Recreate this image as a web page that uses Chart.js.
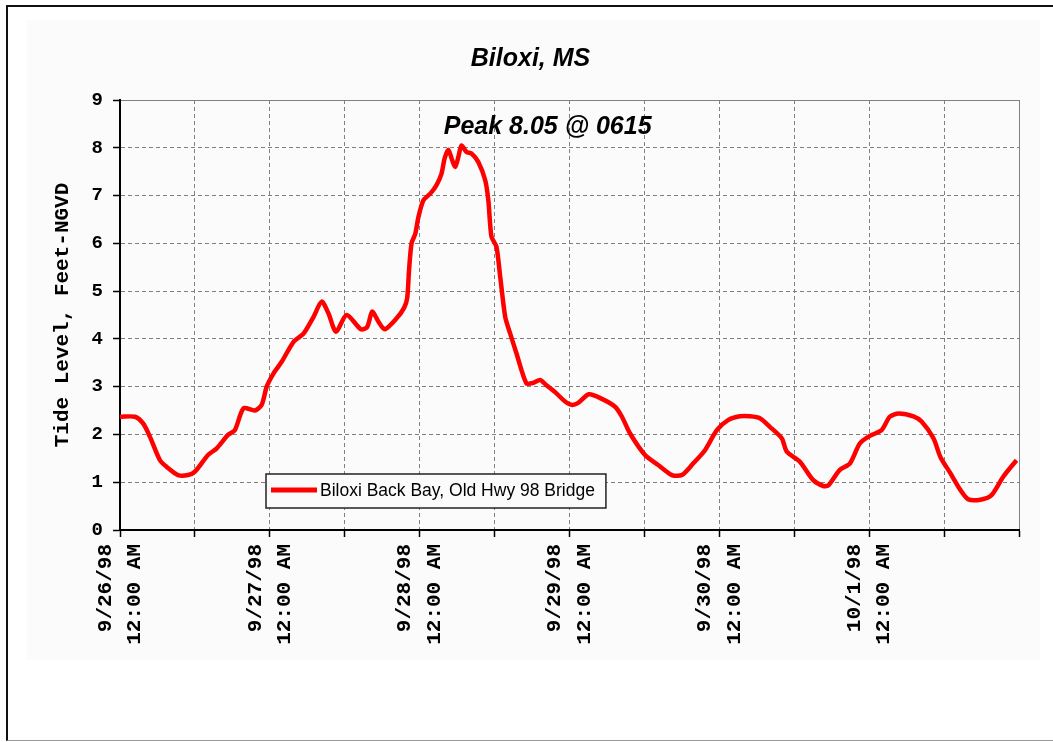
<!DOCTYPE html>
<html>
<head>
<meta charset="utf-8">
<script src="https://cdn.jsdelivr.net/npm/chart.js@4.4.0/dist/chart.umd.min.js"></script>
<style>
  body { margin: 0; background: #fff; width: 1053px; height: 742px; overflow: hidden; position: relative; }
  #frame { position: absolute; left: 6px; top: 5px; width: 1060px; height: 733px;
           border-left: 2px solid #111; border-top: 2px solid #111; border-bottom: 1px solid #999; }
  #wrap { position: absolute; left: 27px; top: 20px; width: 1013px; height: 640px; background: #fbfbfb; }
</style>
</head>
<body>
<div id="frame"></div>
<div id="wrap"><canvas id="tideChart" width="1013" height="640"></canvas></div>
<script>
// hours since 9/26/98 12:00 AM
const hours = [0, 2.4, 3.7, 4.8, 6.4, 7.5, 9.3, 10.9, 12, 14.1, 15.5, 17.3, 18.4, 19.8, 21.6, 22.7,
  23.5, 24.6, 25.9, 27.8, 29.4, 31.0, 32.3, 33.4, 34.6, 36.3, 38.6, 39.6, 40.4, 41.4, 42.4, 44.3,
  45.5, 46.0, 46.3, 46.7, 47.3, 47.8, 48.6, 49.7, 50.7, 51.5, 52.0, 52.6, 53.1, 53.7, 54.2, 54.7,
  55.5, 56.3, 57.4, 58.5, 59.0, 59.5, 60.3, 60.9, 61.7, 62.5, 63.5, 65.1, 66.2, 67.3, 68.3, 69.9,
  71.2, 72.3, 73.4, 75.1, 77.1, 79.3, 80.4, 81.7, 84.1, 86.2, 88.4, 90.0, 91.8, 93.7, 95.6, 97.4,
  99.3, 100.9, 102.5, 104.1, 106.0, 106.8, 108.9, 111.0, 112.7, 113.5, 115.3, 116.9, 118.5, 120.1,
  122.0, 123.3, 124.7, 127.1, 128.4, 130.3, 131.4, 133.0, 134.6, 135.9, 138.0, 139.6, 141.5, 143.6];

// tide level, feet NGVD
const level = [2.37, 2.37, 2.23, 1.95, 1.46, 1.32, 1.15, 1.15, 1.22, 1.57, 1.71, 1.99, 2.09, 2.55, 2.5, 2.62,
  3.0, 3.28, 3.52, 3.94, 4.11, 4.46, 4.78, 4.53, 4.15, 4.5, 4.2, 4.25, 4.57, 4.36, 4.2, 4.43,
  4.65, 4.85, 5.44, 6.0, 6.2, 6.55, 6.9, 7.04, 7.22, 7.46, 7.78, 7.96, 7.78, 7.6, 7.81, 8.05,
  7.91, 7.88, 7.7, 7.32, 6.9, 6.14, 5.93, 5.3, 4.46, 4.11, 3.7, 3.07, 3.08, 3.14, 3.03, 2.86,
  2.7, 2.62, 2.66, 2.84, 2.75, 2.58, 2.37, 2.02, 1.57, 1.36, 1.15, 1.15, 1.39, 1.67, 2.09, 2.3,
  2.38, 2.38, 2.34, 2.16, 1.92, 1.64, 1.43, 1.05, 0.92, 0.94, 1.26, 1.39, 1.81, 1.97,
  2.09, 2.37, 2.44, 2.38, 2.27, 1.92, 1.53, 1.19, 0.84, 0.64, 0.64, 0.73, 1.12, 1.46];

const dayLabels = ['9/26/98', '9/27/98', '9/28/98', '9/29/98', '9/30/98', '10/1/98'];
const timeLabel = '12:00 AM';
const seriesName = 'Biloxi Back Bay, Old Hwy 98 Bridge';
const chartTitle = 'Biloxi, MS';
const yTitle = 'Tide Level, Feet-NGVD';
const peakNote = 'Peak 8.05 @ 0615';
const peakNoteAt = [68.5, 8.44];

const monoFont = '"Liberation Mono", "Courier New", monospace';
const sansFont = '"Liberation Sans", Arial, sans-serif';

// peak annotation text
const peakText = {
  id: 'peakText',
  afterDraw(chart) {
    const {ctx, scales} = chart;
    ctx.save();
    ctx.font = 'italic bold 25px ' + sansFont;
    ctx.fillStyle = '#000';
    ctx.textAlign = 'center';
    ctx.textBaseline = 'middle';
    ctx.fillText(peakNote, scales.x.getPixelForValue(peakNoteAt[0]), scales.y.getPixelForValue(peakNoteAt[1]));
    ctx.restore();
  }
};

// boxed legend inside the plot
const legendBox = {
  id: 'legendBox',
  afterDraw(chart) {
    const {ctx, chartArea} = chart;
    const ds = chart.data.datasets[0];
    ctx.save();
    ctx.font = '17.5px ' + sansFont;
    const w = 54 + ctx.measureText(ds.label).width + 11;
    const x = chartArea.left + 146, y = chartArea.bottom - 56, h = 34;
    ctx.fillStyle = '#fbfbfb';
    ctx.fillRect(x, y, w, h);
    ctx.strokeStyle = '#222';
    ctx.lineWidth = 1.5;
    ctx.strokeRect(x, y, w, h);
    ctx.strokeStyle = ds.borderColor;
    ctx.lineWidth = 5;
    ctx.beginPath();
    ctx.moveTo(x + 5, y + h / 2 - 1);
    ctx.lineTo(x + 51, y + h / 2 - 1);
    ctx.stroke();
    ctx.fillStyle = '#000';
    ctx.textBaseline = 'middle';
    ctx.fillText(ds.label, x + 54, y + h / 2);
    ctx.restore();
  }
};

new Chart(document.getElementById('tideChart'), {
  type: 'line',
  data: {
    datasets: [{
      label: seriesName,
      data: hours.map((h, i) => ({x: h, y: level[i]})),
      borderColor: '#ff0000',
      borderWidth: 4.5,
      pointRadius: 0,
      tension: 0.25,
      fill: false
    }]
  },
  options: {
    responsive: false,
    animation: false,
    devicePixelRatio: 1,
    layout: { padding: { left: 15, right: 21, top: 0, bottom: 0 } },
    plugins: {
      legend: { display: false },
      tooltip: { enabled: false },
      title: {
        display: true,
        text: chartTitle,
        color: '#000',
        font: { family: sansFont, size: 25, style: 'italic', weight: 'bold' },
        padding: { top: 24, bottom: 26 }
      }
    },
    scales: {
      x: {
        type: 'linear',
        min: 0,
        max: 144,
        // fixed height, and no extra side padding for the rotated labels
        afterFit: s => { s.height = 130; s.paddingRight = 0; s.paddingLeft = 0; },
        ticks: {
          stepSize: 12,
          autoSkip: false,
          minRotation: 90,
          maxRotation: 90,
          labelOffset: -14.5,
          padding: 7,
          color: '#000',
          font: { family: monoFont, size: 21, weight: 'bold', lineHeight: 1.4 },
          callback: v => (v % 24 === 0 && v < 144) ? [dayLabels[v / 24], timeLabel] : ''
        },
        grid: { color: '#808080', lineWidth: 1, tickLength: 7, tickColor: '#000', tickWidth: 1.5, tickBorderDash: [] },
        border: { color: '#000', width: 2, dash: c => (c.tick && c.tick.value === 144) ? [] : [4, 3] }
      },
      y: {
        min: 0,
        max: 9,
        afterFit: s => { s.width = 78; },
        ticks: {
          stepSize: 1,
          padding: 10,
          color: '#000',
          font: { family: monoFont, size: 19, weight: 'bold' }
        },
        grid: { color: '#808080', lineWidth: 1, tickLength: 7, tickColor: '#000', tickWidth: 1.5, tickBorderDash: [] },
        border: { color: '#000', width: 2, dash: c => (c.tick && c.tick.value === 9) ? [] : [4, 3] },
        title: {
          display: true,
          text: yTitle,
          color: '#000',
          font: { family: monoFont, size: 21, weight: 'bold' },
          padding: { top: 8, bottom: 0 }
        }
      }
    }
  },
  plugins: [peakText, legendBox]
});
</script>
</body>
</html>
